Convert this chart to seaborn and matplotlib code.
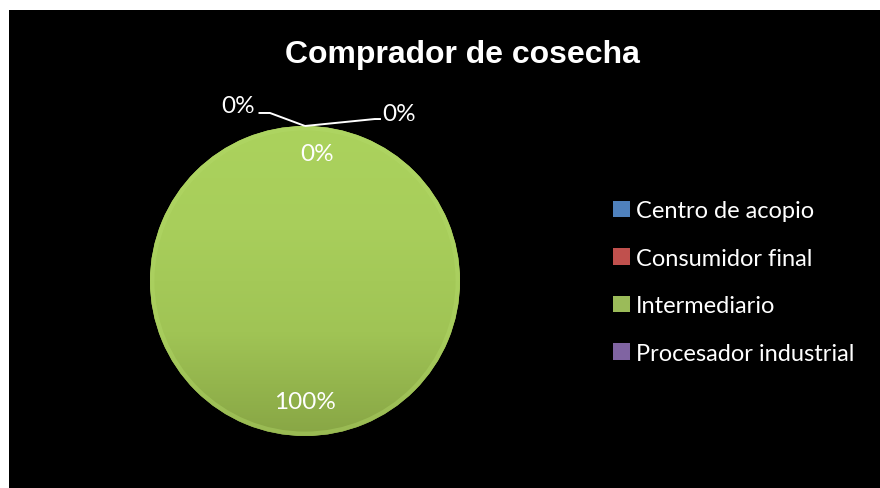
"""Pie chart: Comprador de cosecha"""
import numpy as np
import matplotlib
matplotlib.use("Agg")
from matplotlib import pyplot as plt
from matplotlib.patches import Patch
import seaborn as sns


categories = ["Centro de acopio", "Consumidor final", "Intermediario", "Procesador industrial"]
percentages = [0, 0, 100, 0]
colors = ["#4F81BD", "#C0504D", "#9BBB59", "#8064A2"]
title = "Comprador de cosecha"

sns.set_theme(style="white")
plt.rcParams["font.family"] = ["Lato", "DejaVu Sans"]

W, H = 880, 489
fig = plt.figure(figsize=(W / 100, H / 100), dpi=100, facecolor="white")

# black chart area
bg = fig.add_axes([9 / W, 0, (W - 9) / W, (H - 11) / H])
bg.set_facecolor("black")
bg.set_xticks([])
bg.set_yticks([])
for s in bg.spines.values():
    s.set_visible(False)

fig.text(462 / W, 1 - 55 / H, title, color="white", fontsize=23, fontweight="bold",
         family="Liberation Sans", ha="center", va="center")

# pie axes: center (305, 282), radius 155 px
ax = fig.add_axes([150 / W, (H - 437) / H, 310 / W, 310 / H])
ax.set_facecolor("none")
wedges, _ = ax.pie(percentages, colors=colors, startangle=90, counterclock=False,
                   radius=1, wedgeprops=dict(linewidth=0))
ax.set_xlim(-1, 1)
ax.set_ylim(-1, 1)
ax.set_aspect("equal")
ax.axis("off")

# soft vertical shading on the pie (lighter top, darker bottom)
grad = np.linspace(0, 1, 256).reshape(-1, 1)
cmap = matplotlib.colors.LinearSegmentedColormap.from_list(
    "g", ["#88A645", "#A0C455", "#A8CE5B", "#ABD25D"])
im = ax.imshow(grad, extent=[-1, 1, -1, 1], cmap=cmap, aspect="auto", zorder=2,
               origin="lower")
big = wedges[percentages.index(max(percentages))]
im.set_clip_path(big)
ax.add_patch(plt.Circle((0, 0), 0.985, fill=False, lw=3, ec="#B4DA6A", alpha=0.4, zorder=3))
ax.set_xlim(-1, 1)
ax.set_ylim(-1, 1)

# percentage labels
lab_kw = dict(color="white", fontsize=17.5, ha="center", va="center", zorder=5, clip_on=False)
for w, p in zip(wedges, percentages):
    if p > 0:
        ang = np.deg2rad((w.theta1 + w.theta2) / 2)
        ax.text(0.78 * np.cos(ang), 0.78 * np.sin(ang), f"{p}%", **lab_kw)

zero_idx = [i for i, p in enumerate(percentages) if p == 0]
# anchor of the zero slices (top of the pie)
ang0 = np.deg2rad(wedges[zero_idx[0]].theta1)
ax0, ay0 = np.cos(ang0), np.sin(ang0)
# leader-line label placements for the zero slices
label_pos = [(-0.43, 1.13), (0.08, 0.82), (0.61, 1.08)]
for i, (lx, ly) in zip(zero_idx, label_pos):
    ax.text(lx, ly, f"{percentages[i]}%", **lab_kw)
ax.plot([-0.30, -0.226, ax0], [1.084, 1.084, ay0], color="white", lw=1.4,
        clip_on=False, zorder=4, solid_capstyle="butt")
ax.plot([ax0, 0.45, 0.49], [ay0, 1.045, 1.045], color="white", lw=1.4,
        clip_on=False, zorder=4, solid_capstyle="butt")

handles = [Patch(facecolor=c, edgecolor="none") for c in colors]
leg = fig.legend(handles, categories, loc="center left", bbox_to_anchor=(592 / W, 1 - 283 / H),
                 frameon=False, fontsize=17, labelcolor="white", handlelength=0.72,
                 handleheight=0.72, handletextpad=0.25, labelspacing=1.12)

fig.savefig("out.png", dpi=100, facecolor="white")
